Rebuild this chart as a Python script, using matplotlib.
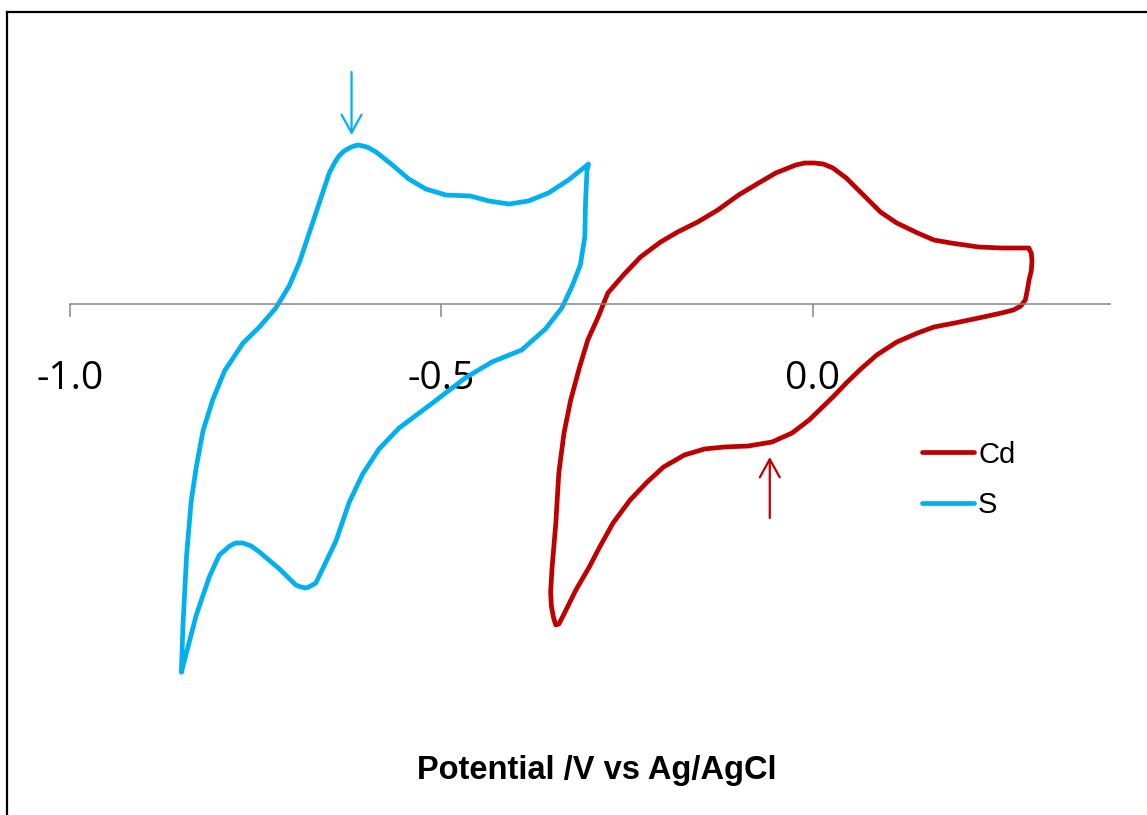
import numpy as np
import matplotlib
matplotlib.use("Agg")
import matplotlib.pyplot as plt
from matplotlib.lines import Line2D

# cyclic voltammograms, potential (V vs Ag/AgCl) and current (arb. units)
cd_v = [0.291, 0.254, 0.223, 0.186, 0.163, 0.141, 0.113, 0.091, 0.068, 0.045,
        0.027, 0.014, 0.002, -0.011, -0.023, -0.050, -0.073, -0.100, -0.128,
        -0.155, -0.182, -0.205, -0.232, -0.255, -0.276, -0.289, -0.303, -0.314,
        -0.326, -0.335, -0.342, -0.346, -0.351, -0.353, -0.352, -0.349, -0.346,
        -0.342, -0.337, -0.319, -0.301, -0.287, -0.269, -0.246, -0.223, -0.201,
        -0.173, -0.146, -0.119, -0.087, -0.055, -0.028, -0.005, 0.013, 0.027,
        0.045, 0.063, 0.086, 0.113, 0.141, 0.163, 0.191, 0.223, 0.254, 0.270,
        0.280, 0.286, 0.289, 0.291, 0.294, 0.295, 0.294, 0.291]
cd_i = [5.6, 5.6, 5.7, 6.1, 6.4, 7.1, 8.1, 9.2, 10.9, 12.6,
        13.6, 14.0, 14.1, 14.1, 13.9, 13.1, 12.1, 10.9, 9.4,
        8.2, 7.2, 6.2, 4.7, 2.9, 1.1, -1.3, -3.6, -6.3,
        -9.6, -12.9, -16.9, -21.9, -26.3, -28.8, -30.2, -31.4, -32.1,
        -32.0, -31.3, -28.6, -26.3, -24.3, -21.9, -19.6, -17.8, -16.3,
        -15.1, -14.5, -14.3, -14.2, -13.8, -12.9, -11.6, -10.3, -9.3,
        -7.9, -6.6, -5.1, -3.8, -2.9, -2.3, -1.9, -1.4, -0.9, -0.6,
        -0.2, 0.4, 1.5, 2.4, 3.3, 4.3, 5.1, 5.5]

s_v = [-0.850, -0.848, -0.843, -0.837, -0.830, -0.821, -0.808, -0.792, -0.767,
       -0.745, -0.723, -0.705, -0.691, -0.678, -0.664, -0.651, -0.644, -0.638,
       -0.631, -0.624, -0.618, -0.612, -0.600, -0.588, -0.566, -0.544, -0.521,
       -0.494, -0.461, -0.436, -0.409, -0.383, -0.356, -0.329, -0.302, -0.304,
       -0.306, -0.307, -0.313, -0.324, -0.338, -0.360, -0.392, -0.432, -0.468,
       -0.512, -0.557, -0.584, -0.606, -0.624, -0.642, -0.669, -0.676, -0.682,
       -0.689, -0.696, -0.718, -0.745, -0.756, -0.767, -0.777, -0.785, -0.799,
       -0.812, -0.830, -0.850]
s_i = [-36.8, -32.2, -25.1, -19.8, -16.3, -12.7, -9.6, -6.7, -3.9,
       -2.3, -0.4, 1.8, 4.2, 7.1, 10.2, 13.1, 14.1, 14.8,
       15.3, 15.6, 15.8, 15.9, 15.7, 15.2, 13.9, 12.5, 11.5,
       10.9, 10.8, 10.3, 10.0, 10.3, 11.1, 12.4, 14.0, 13.4,
       10.2, 6.7, 3.9, 1.8, -0.4, -2.5, -4.6, -5.8, -7.4,
       -9.9, -12.4, -14.5, -17.0, -19.8, -23.7, -27.9, -28.2, -28.4,
       -28.3, -28.1, -26.5, -24.8, -24.2, -23.9, -23.9, -24.2, -25.1,
       -27.2, -31.1, -36.8]

# peak markers: (potential, arrow tail current, arrow tip current)
s_peak = (-0.621, 23.2, 16.9)
cd_peak = (-0.058, -21.4, -15.3)

xticks = [-1.0, -0.5, 0.0]
xticklabels = ["-1.0", "-0.5", "0.0"]

red = "#C00000"
blue = "#00B0F0"
grey = "#868686"

W, H = 1147, 815
fig = plt.figure(figsize=(W / 100, H / 100), dpi=100)
ax = fig.add_axes([70 / W, (H - 684) / H, 1040 / W, 640 / H])

ax.plot(cd_v, cd_i, color=red, lw=3.4, label="Cd",
        solid_joinstyle="round", solid_capstyle="round")
ax.plot(s_v, s_i, color=blue, lw=3.4, label="S",
        solid_joinstyle="round", solid_capstyle="round")

for (v, tail, tip), c in [(s_peak, blue), (cd_peak, red)]:
    ax.annotate("", xy=(v, tip), xytext=(v, tail),
                arrowprops=dict(arrowstyle="->,head_length=0.65,head_width=0.36",
                                color=c, lw=1.6, mutation_scale=20,
                                shrinkA=0, shrinkB=0))

ax.set_xlim(-1.0, 0.4)
ax.set_ylim(-38, 26)
for s in ["left", "right", "top"]:
    ax.spines[s].set_visible(False)
ax.spines["bottom"].set_position(("data", 0))
ax.spines["bottom"].set_color(grey)
ax.spines["bottom"].set_linewidth(1.1)
ax.set_yticks([])
ax.set_xticks(xticks)
ax.set_xticklabels(xticklabels, fontfamily="Open Sans", fontsize=28)
ax.tick_params(axis="x", direction="out", length=9.4, width=1.1,
               color=grey, pad=31)
ax.patch.set_visible(False)

ax.legend(loc="center left", bbox_to_anchor=(922 / W, 1 - 480 / H),
          bbox_transform=fig.transFigure, frameon=False, borderpad=0,
          borderaxespad=0, handlelength=1.78, handletextpad=0.14,
          labelspacing=0.78, prop=dict(family="Liberation Sans", size=21))

fig.text(597 / W, 1 - 770 / H, "Potential /V vs Ag/AgCl", ha="center",
         va="center", fontfamily="Liberation Sans", fontweight="bold",
         fontsize=23.5)

# outer chart border (left and top edges)
fig.add_artist(Line2D([7 / W, 7 / W], [0, 1 - 12 / H], color="black",
                      lw=1.6, transform=fig.transFigure))
fig.add_artist(Line2D([7 / W, 1], [1 - 12 / H, 1 - 12 / H], color="black",
                      lw=1.6, transform=fig.transFigure))

fig.savefig("out.png", dpi=100)
